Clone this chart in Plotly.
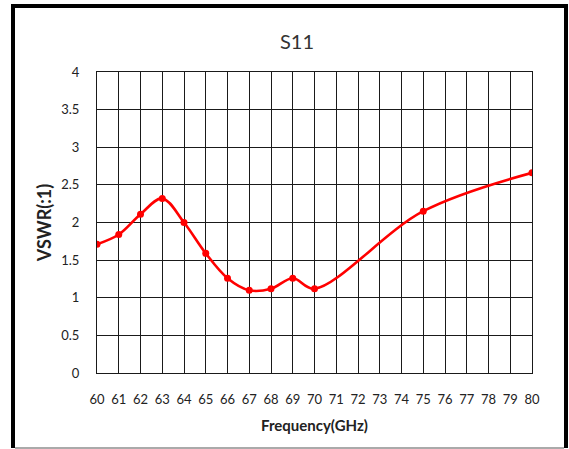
import plotly.graph_objects as go

freq_ghz = [60, 61, 62, 63, 64, 65, 66, 67, 68, 69, 70, 75, 80]
vswr = [1.71, 1.84, 2.11, 2.32, 2.00, 1.59, 1.26, 1.10, 1.12, 1.26, 1.12, 2.15, 2.66]

title_text = "S11"
x_title = "Frequency(GHz)"
y_title = "VSWR(:1)"

W, H = 569, 449
ML, MR, MT, MB = 97, 37, 72, 76
pw = W - ML - MR
ph = H - MT - MB

def px_x(p):
    return (p - ML) / pw

def px_y(p):
    return (H - MB - p) / ph

fig = go.Figure()
fig.add_trace(go.Scatter(
    x=freq_ghz, y=vswr, mode="lines+markers",
    line=dict(color="#FF0000", width=2.6, shape="spline", smoothing=1.0),
    marker=dict(color="#FF0000", size=7, symbol="circle"),
    showlegend=False,
))

font_family = "Lato, 'Open Sans', sans-serif"

fig.update_layout(
    width=W, height=H,
    margin=dict(l=ML, r=MR, t=MT, b=MB, autoexpand=False),
    paper_bgcolor="white", plot_bgcolor="white",
    font=dict(family=font_family, color="#333333", size=13),
    title=dict(text=title_text, x=297 / W, xref="container", xanchor="center",
               y=1 - 42 / H, yref="container", yanchor="middle",
               font=dict(size=20, color="#333333", family=font_family)),
    xaxis=dict(
        range=[60, 80], dtick=1, tick0=60, showgrid=True, gridcolor="#1a1a1a", gridwidth=1,
        showline=True, linecolor="#1a1a1a", linewidth=1, mirror=True, zeroline=False,
        ticks="", ticklabelstandoff=14, tickfont=dict(size=13, color="#222222"),
        title=dict(text="<b>" + x_title + "</b>", standoff=14,
                   font=dict(size=15, color="#222222")),
        automargin=False, fixedrange=True,
    ),
    yaxis=dict(
        range=[0, 4], dtick=0.5, tick0=0, showgrid=True, gridcolor="#1a1a1a", gridwidth=1,
        showline=True, linecolor="#1a1a1a", linewidth=1, mirror=True, zeroline=False,
        ticks="", ticklabelstandoff=14, tickfont=dict(size=13, color="#222222"),
        title=dict(text="<b>" + y_title + "</b>", standoff=4,
                   font=dict(size=18, color="#222222")),
        automargin=False, fixedrange=True,
    ),
    shapes=[
        dict(type="line", xref="paper", yref="paper", x0=px_x(13), x1=px_x(13),
             y0=px_y(448), y1=px_y(4), line=dict(color="black", width=4)),
        dict(type="line", xref="paper", yref="paper", x0=px_x(11), x1=px_x(568),
             y0=px_y(6), y1=px_y(6), line=dict(color="black", width=4)),
        dict(type="line", xref="paper", yref="paper", x0=px_x(566), x1=px_x(566),
             y0=px_y(448), y1=px_y(4), line=dict(color="black", width=4)),
        dict(type="line", xref="paper", yref="paper", x0=px_x(15), x1=px_x(564),
             y0=px_y(448), y1=px_y(448), line=dict(color="#aaaaaa", width=2)),
    ],
)

fig.write_html(
    "out.html",
    config={"displayModeBar": False, "staticPlot": True},
    post_script="document.body.style.margin='0';document.body.style.overflow='hidden';",
)
